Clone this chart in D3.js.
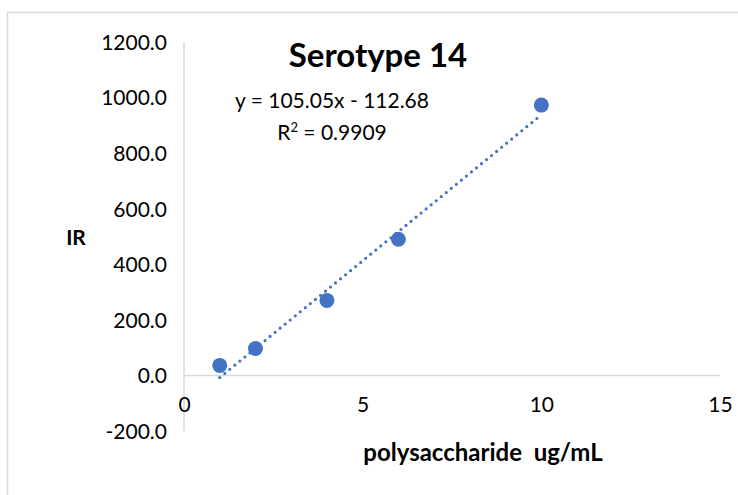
<!DOCTYPE html>
<html><head><meta charset="utf-8">
<script src="https://cdn.jsdelivr.net/npm/d3@7"></script>
<style>body{margin:0;background:#fff}svg{display:block}text{font-family:Lato,"Open Sans",sans-serif}</style>
</head><body><svg id="c" width="738" height="495"></svg>
<script>
const xValues = [1, 2, 4, 6, 10];
const yValues = [36, 97, 270, 490, 973];
const xTicks = [0, 5, 10, 15];
const yTicks = [-200, 0, 200, 400, 600, 800, 1000, 1200];
const trendSlope = 105.05, trendIntercept = -112.68;
const trendRange = [1, 10];
const titleText = "Serotype 14";
const eqText = "y = 105.05x - 112.68";
const xLabel = "polysaccharide  ug/mL";
const yLabel = "IR";

const svg = d3.select("#c");
svg.append("rect").attr("x",7.5).attr("y",12.5).attr("width",760).attr("height",520)
  .attr("fill","#fff").attr("stroke","#d9d9d9").attr("stroke-width",1.5);

const x = d3.scaleLinear().domain([0,15]).range([184,720]);
const y = d3.scaleLinear().domain([-200,1200]).range([431,42]);

svg.append("line").attr("x1",x(0)).attr("x2",x(0)).attr("y1",y(1200)).attr("y2",y(-200))
  .attr("stroke","#d9d9d9").attr("stroke-width",1.5);
svg.append("line").attr("x1",x(0)).attr("x2",x(15)).attr("y1",y(0)).attr("y2",y(0))
  .attr("stroke","#d9d9d9").attr("stroke-width",1.5);

const fmtY = d => d.toFixed(1);
const yAxis = d3.axisLeft(y).tickValues(yTicks).tickFormat(fmtY).tickSize(0).tickPadding(0);
const gy = svg.append("g").attr("transform","translate(167,0)").call(yAxis);
gy.select(".domain").remove();
gy.selectAll("text").attr("font-size",21).attr("fill","#000").attr("font-family","Lato").attr("dy","0.35em");

const xAxis = d3.axisBottom(x).tickValues(xTicks).tickFormat(d => String(d)).tickSize(0).tickPadding(0);
const gx = svg.append("g").attr("transform","translate(0,397)").call(xAxis);
gx.select(".domain").remove();
gx.selectAll("text").attr("font-size",21).attr("fill","#000").attr("font-family","Lato").attr("dy","0.71em");

const tl = trendRange.map(v => [v, trendSlope*v + trendIntercept]);
svg.append("path").datum(tl)
  .attr("d", d3.line().x(d=>x(d[0])).y(d=>y(d[1])))
  .attr("stroke","#4472C4").attr("stroke-width",3.2).attr("stroke-linecap","round")
  .attr("stroke-dasharray","0,6.5").attr("fill","none");

svg.selectAll("circle.pt").data(xValues.map((v,i)=>[v,yValues[i]])).enter().append("circle")
  .attr("class","pt").attr("cx",d=>x(d[0])).attr("cy",d=>y(d[1])).attr("r",7.5).attr("fill","#4472C4");

svg.append("text").attr("x",378).attr("y",67).attr("text-anchor","middle")
  .attr("font-size",33).attr("font-weight","bold").text(titleText);
svg.append("text").attr("x",332).attr("y",108).attr("text-anchor","middle").attr("font-size",21).text(eqText);
const r2 = svg.append("text").attr("x",332).attr("y",140).attr("text-anchor","middle").attr("font-size",21);
r2.append("tspan").text("R");
r2.append("tspan").attr("baseline-shift","super").attr("font-size",13).text("2");
r2.append("tspan").text(" = 0.9909");

svg.append("text").attr("x",76).attr("y",245).attr("text-anchor","middle")
  .attr("font-size",21).attr("font-weight","bold").text(yLabel);
svg.append("text").attr("x",483).attr("y",461).attr("text-anchor","middle")
  .attr("font-size",24).attr("font-weight","bold").style("white-space","pre").text(xLabel);
</script></body></html>
